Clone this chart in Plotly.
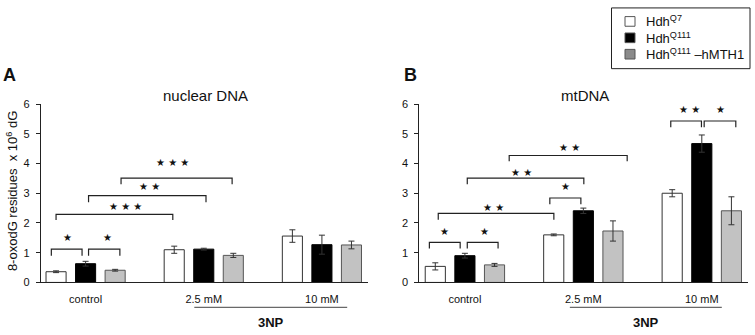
import plotly.graph_objects as go

W, H = 755, 335

categories = ["control", "2.5 mM", "10 mM"]
series_names = ["Hdh<sup>Q7</sup>", "Hdh<sup>Q111</sup>", "Hdh<sup>Q111</sup> –hMTH1"]

nuc_q7 = [0.36, 1.10, 1.56]
nuc_q7_err = [0.03, 0.12, 0.21]
nuc_q111 = [0.63, 1.12, 1.27]
nuc_q111_err = [0.08, 0.03, 0.32]
nuc_hmth1 = [0.41, 0.91, 1.26]
nuc_hmth1_err = [0.03, 0.07, 0.13]

mt_q7 = [0.54, 1.60, 3.00]
mt_q7_err = [0.12, 0.03, 0.12]
mt_q111 = [0.90, 2.41, 4.67]
mt_q111_err = [0.08, 0.09, 0.29]
mt_hmth1 = [0.59, 1.73, 2.41]
mt_hmth1_err = [0.05, 0.34, 0.47]

y_ticks = [0, 1, 2, 3, 4, 5, 6]

# significance brackets: (axis, x0, x1, top, leg bottom, n stars, label x, label y)
brackets = [
    ("x", -0.29, -0.03, 1.12, 0.90, 1, -0.157, 1.51),
    ("x", 0.025, 0.29, 1.12, 0.90, 1, 0.186, 1.51),
    ("x", -0.25, 0.738, 2.29, 2.10, 3, 0.335, 2.54),
    ("x", 0.025, 1.019, 2.92, 2.70, 2, 0.54, 3.22),
    ("x", 0.30, 1.24, 3.51, 3.30, 3, 0.737, 4.02),
    ("x2", -0.30, -0.04, 1.35, 1.14, 1, -0.175, 1.71),
    ("x2", 0.02, 0.28, 1.35, 1.14, 1, 0.169, 1.71),
    ("x2", -0.225, 0.751, 2.32, 2.11, 2, 0.239, 2.52),
    ("x2", 0.02, 1.004, 3.51, 3.30, 2, 0.478, 3.71),
    ("x2", 0.374, 1.37, 4.27, 4.08, 2, 0.886, 4.54),
    ("x2", 0.717, 0.979, 2.84, 2.63, 1, 0.85, 3.22),
    ("x2", 1.738, 1.997, 5.43, 5.22, 2, 1.893, 5.82),
    ("x2", 2.02, 2.287, 5.43, 5.22, 1, 2.158, 5.82),
]

FONT = "Liberation Sans, Arial, sans-serif"
fills = ["#ffffff", "#000000", "#c2c2c2"]
lines = ["#333333", "#000000", "#555555"]
swatch = ["#ffffff", "#000000", "#8a8a8a"]

def px(x):
    return x / W

def py(y):
    return 1 - y / H

fig = go.Figure()

panels = [
    ("x", "y", [(nuc_q7, nuc_q7_err), (nuc_q111, nuc_q111_err), (nuc_hmth1, nuc_hmth1_err)]),
    ("x2", "y2", [(mt_q7, mt_q7_err), (mt_q111, mt_q111_err), (mt_hmth1, mt_hmth1_err)]),
]
for xa, ya, data in panels:
    for i, (vals, errs) in enumerate(data):
        fig.add_trace(go.Bar(
            x=categories, y=vals, name=series_names[i], xaxis=xa, yaxis=ya,
            marker=dict(color=fills[i], line=dict(color=lines[i], width=1)),
            error_y=dict(type="data", array=errs, visible=True, color="#333333",
                         thickness=1, width=3),
            showlegend=False, offsetgroup=str(i), hoverinfo="skip",
        ))

ydom = [py(286.7), py(101.7)]
axis_common = dict(showline=True, linecolor="#222", linewidth=1, showgrid=False,
                   zeroline=False)
fig.update_layout(
    width=W, height=H, margin=dict(l=0, r=0, t=0, b=0),
    paper_bgcolor="white", plot_bgcolor="white",
    barmode="group", bargap=0.25, bargroupgap=0.32,
    font=dict(family=FONT, color="#111"),
    xaxis=dict(domain=[px(40.7), px(368)], range=[-0.38, 2.39], ticks="",
               tickfont=dict(size=11), ticklabelstandoff=6, **axis_common),
    xaxis2=dict(domain=[px(419.3), px(748)], range=[-0.385, 2.39], ticks="",
                tickfont=dict(size=11), ticklabelstandoff=6, anchor="y2", **axis_common),
    yaxis=dict(domain=ydom, range=[0, 6], tickvals=y_ticks, ticks="outside",
               ticklen=4, tickcolor="#222", tickfont=dict(size=11),
               ticklabelstandoff=4, **axis_common),
    yaxis2=dict(domain=ydom, range=[0, 6], tickvals=y_ticks, ticks="outside",
                ticklen=4, tickcolor="#222", tickfont=dict(size=11), anchor="x2",
                ticklabelstandoff=4, **axis_common),
)

shapes = []
annotations = []
for xa, x0, x1, top, bot, n, lx, ly in brackets:
    yr = "y" if xa == "x" else "y2"
    shapes.append(dict(type="path", xref=xa, yref=yr,
                       path=f"M {x0},{bot} L {x0},{top} L {x1},{top} L {x1},{bot}",
                       line=dict(color="#222", width=1.2)))
    annotations.append(dict(xref=xa, yref=yr, x=lx, y=ly, text=" ".join(["★"] * n),
                            showarrow=False, font=dict(size=10, color="#111",
                                                       family="DejaVu Sans"),
                            xanchor="center", yanchor="middle"))

# 3NP treatment lines
for xa, x0, x1, tx in [("x", 0.92, 2.214, 1.573), ("x2", 0.886, 2.169, 1.533)]:
    shapes.append(dict(type="line", xref=xa, yref="paper", x0=x0, x1=x1,
                       y0=py(312.5), y1=py(312.5), line=dict(color="#444", width=1)))
    annotations.append(dict(xref=xa, yref="paper", x=tx, y=py(328), text="<b>3NP</b>",
                            showarrow=False, font=dict(size=13), xanchor="center",
                            yanchor="middle"))

# panel titles and letters
annotations += [
    dict(xref="paper", yref="paper", x=px(205), y=py(93), text="nuclear DNA",
         showarrow=False, font=dict(size=15), xanchor="center", yanchor="middle"),
    dict(xref="paper", yref="paper", x=px(585), y=py(93), text="mtDNA",
         showarrow=False, font=dict(size=15), xanchor="center", yanchor="middle"),
    dict(xref="paper", yref="paper", x=px(9), y=py(72), text="<b>A</b>",
         showarrow=False, font=dict(size=18), xanchor="center", yanchor="middle"),
    dict(xref="paper", yref="paper", x=px(410), y=py(72), text="<b>B</b>",
         showarrow=False, font=dict(size=18), xanchor="center", yanchor="middle"),
    dict(xref="paper", yref="paper", x=px(12), y=py(192),
         text="8-oxodG residues  x 10<sup>6</sup> dG", textangle=-90,
         showarrow=False, font=dict(size=13), xanchor="center", yanchor="middle"),
]

# legend box
shapes.append(dict(type="rect", xref="paper", yref="paper", x0=px(611.5), x1=px(750),
                   y0=py(65), y1=py(2), line=dict(color="#222", width=1),
                   fillcolor="white"))
for i, name in enumerate(series_names):
    cy = 16 + 17 * i
    shapes.append(dict(type="rect", xref="paper", yref="paper",
                       x0=px(625), x1=px(635), y0=py(cy + 5), y1=py(cy - 5),
                       line=dict(color="#555", width=1), fillcolor=swatch[i]))
    annotations.append(dict(xref="paper", yref="paper", x=px(644), y=py(cy),
                            text=name, showarrow=False, font=dict(size=13),
                            xanchor="left", yanchor="middle"))

fig.update_layout(shapes=shapes, annotations=annotations)
fig.write_html("out.html", config={"displayModeBar": False},
               post_script="document.body.style.margin='0';document.body.style.overflow='hidden';")
